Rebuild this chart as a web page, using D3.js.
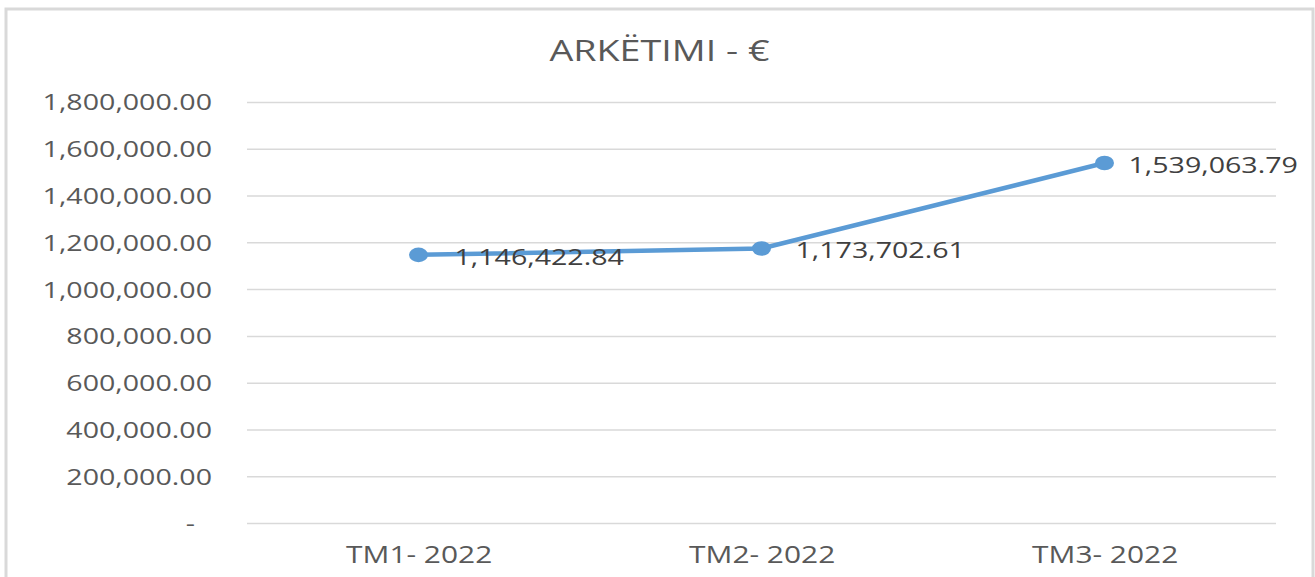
<!DOCTYPE html>
<html>
<head>
<meta charset="utf-8">
<script src="https://cdn.jsdelivr.net/npm/d3@7"></script>
<style>
  body { margin: 0; background: #fff; }
  svg { display: block; }
</style>
</head>
<body>
<div id="chart"></div>
<script>
// Chart data
var chartTitle = "ARKËTIMI - €";
var quarters = ["TM1- 2022", "TM2- 2022", "TM3- 2022"];
var arketimi = [1146422.84, 1173702.61, 1539063.79];
var yTicks = [0, 200000, 400000, 600000, 800000, 1000000, 1200000, 1400000, 1600000, 1800000];

// Setup - the original picture is stretched sideways, so draw in a narrower
// coordinate system and let the viewBox stretch it out
var svgWidth = 1315;
var svgHeight = 577;
var stretch = 1.3;
var viewWidth = svgWidth / stretch;
var sx = v => v / stretch;

var margin = {
  top: 102,
  right: sx(svgWidth - 1276),
  bottom: svgHeight - 523,
  left: sx(247)
};

var width = viewWidth - margin.left - margin.right;
var height = svgHeight - margin.top - margin.bottom;

var svg = d3.select("#chart")
  .append("svg")
  .attr("width", svgWidth)
  .attr("height", svgHeight)
  .attr("viewBox", `0 0 ${viewWidth} ${svgHeight}`)
  .attr("preserveAspectRatio", "none")
  .style("font-family", "'Open Sans', sans-serif");

// outer frame of the chart
svg.append("rect")
  .attr("x", sx(6))
  .attr("y", 9)
  .attr("width", sx(1313 - 6))
  .attr("height", 620)
  .attr("fill", "#fff")
  .attr("stroke", "#d9d9d9")
  .attr("stroke-width", 3)
  .attr("vector-effect", "non-scaling-stroke");

svg.append("text")
  .attr("x", sx((6 + 1313) / 2))
  .attr("y", 61)
  .attr("text-anchor", "middle")
  .attr("font-size", "29px")
  .attr("fill", "#595959")
  .text(chartTitle);

var chartGroup = svg.append("g")
  .attr("transform", `translate(${margin.left}, ${margin.top})`);

// Scales
var xScale = d3.scalePoint()
  .domain(quarters)
  .range([0, width])
  .padding(0.5);

var yScale = d3.scaleLinear()
  .domain([0, 1800000])
  .range([height, 0]);

var fmt = d3.format(",.2f");

// Gridlines
var grid = chartGroup.append("g")
  .call(d3.axisLeft(yScale).tickValues(yTicks).tickSize(-width).tickFormat(""));
grid.select(".domain").remove();
grid.selectAll("line")
  .attr("stroke", "#d9d9d9")
  .attr("stroke-width", 1.5)
  .attr("vector-effect", "non-scaling-stroke");

// Y axis labels
var leftAxis = chartGroup.append("g")
  .call(d3.axisLeft(yScale)
    .tickValues(yTicks)
    .tickSize(0)
    .tickPadding(sx(35))
    .tickFormat(d => d === 0 ? "-" : fmt(d)));
leftAxis.select(".domain").remove();
leftAxis.selectAll("text")
  .attr("font-size", "22px")
  .attr("font-family", "'Open Sans', sans-serif")
  .attr("fill", "#595959")
  .attr("dy", "0.36em")
  .attr("dx", d => d === 0 ? -sx(17) : 0);

// X axis labels
var bottomAxis = chartGroup.append("g")
  .attr("transform", `translate(0, ${height})`)
  .call(d3.axisBottom(xScale).tickSize(0).tickPadding(24));
bottomAxis.select(".domain").remove();
bottomAxis.selectAll("text")
  .attr("font-size", "23px")
  .attr("font-family", "'Open Sans', sans-serif")
  .attr("fill", "#595959");

// Line
var points = quarters.map((q, i) => ({ quarter: q, value: arketimi[i] }));

var line = d3.line()
  .x(d => xScale(d.quarter))
  .y(d => yScale(d.value));

chartGroup.append("path")
  .datum(points)
  .attr("d", line)
  .attr("fill", "none")
  .attr("stroke", "#5b9bd5")
  .attr("stroke-width", 4.5)
  .attr("stroke-linejoin", "round")
  .attr("vector-effect", "non-scaling-stroke");

// Markers
chartGroup.selectAll("circle")
  .data(points)
  .enter()
  .append("circle")
  .attr("cx", d => xScale(d.quarter))
  .attr("cy", d => yScale(d.value))
  .attr("r", 7.3)
  .attr("fill", "#5b9bd5");

// Data labels (to the right of each point)
var labelGap = [36, 34, 24];
chartGroup.selectAll(".value-label")
  .data(points)
  .enter()
  .append("text")
  .attr("class", "value-label")
  .attr("x", (d, i) => xScale(d.quarter) + sx(labelGap[i]))
  .attr("y", d => yScale(d.value))
  .attr("dy", "0.45em")
  .attr("font-size", "22px")
  .attr("fill", "#404040")
  .text(d => fmt(d.value));
</script>
</body>
</html>
